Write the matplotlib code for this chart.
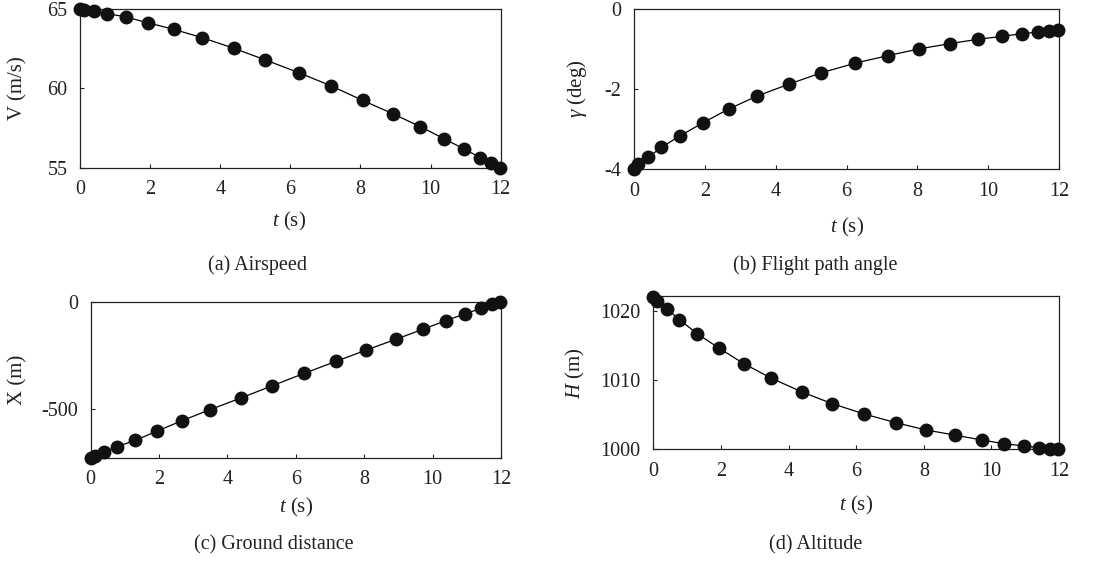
import matplotlib
matplotlib.use('Agg')
import matplotlib.pyplot as plt

plt.rcParams['font.family'] = ['Liberation Serif', 'DejaVu Serif']
plt.rcParams['mathtext.fontset'] = 'custom'
plt.rcParams['mathtext.it'] = 'Liberation Serif:italic'
plt.rcParams['mathtext.rm'] = 'Liberation Serif'
plt.rcParams['axes.unicode_minus'] = False

# time nodes (s)
t = [0.0, 0.12, 0.40, 0.77, 1.30, 1.95, 2.67, 3.48, 4.39, 5.29,
     6.24, 7.17, 8.06, 8.92, 9.71, 10.38, 10.96, 11.42, 11.73, 11.98]

# airspeed V (m/s)
V = [65.0, 64.96, 64.87, 64.73, 64.52, 64.14, 63.74, 63.21, 62.54, 61.80,
     61.0, 60.16, 59.25, 58.41, 57.59, 56.83, 56.18, 55.63, 55.27, 55.0]

# flight path angle gamma (deg)
gamma = [-4.0, -3.87, -3.71, -3.46, -3.17, -2.84, -2.50, -2.17, -1.87, -1.59,
         -1.35, -1.16, -0.99, -0.86, -0.75, -0.68, -0.61, -0.57, -0.54, -0.52]

# ground distance X (m)
X = [-729, -721, -704, -677, -648, -604, -556, -505, -450, -394,
     -335, -279, -226, -176, -129, -89, -56, -31, -11, 0]

# altitude H (m)
H = [1022.0, 1021.5, 1020.3, 1018.75, 1016.7, 1014.6, 1012.4, 1010.3, 1008.3, 1006.6,
     1005.1, 1003.85, 1002.8, 1002.05, 1001.35, 1000.8, 1000.5, 1000.2, 1000.05, 1000.0]

W, Hpx = 1097, 564
fig = plt.figure(figsize=(W / 100, Hpx / 100), dpi=100)


def add_ax(left, top, right, bottom):
    return fig.add_axes([left / W, 1 - bottom / Hpx, (right - left) / W, (bottom - top) / Hpx])


panels = [
    # box (px), y data, ylim, yticks, ylabel, caption, xlabel pos, ylabel pos, caption pos
    ((80, 9.3, 500.7, 167.7), V, (55, 65), [55, 60, 65], 'V (m/s)', '(a) Airspeed',
     (289, 221), (18, 88), (258, 265)),
    ((634, 9.3, 1059, 169), gamma, (-4, 0), [-4, -2, 0], r'$\mathit{\gamma}$ (deg)', '(b) Flight path angle',
     (847, 227), (577, 89), (815, 265)),
    ((90.7, 301.7, 501, 457.7), X, (-729, 0), [-500, 0], 'X (m)', '(c) Ground distance',
     (296, 507), (18, 380), (274, 545)),
    ((653.3, 295.7, 1059, 449.3), H, (1000, 1022.2), [1000, 1010, 1020], r'$H$ (m)', '(d) Altitude',
     (856, 505), (575, 373), (816, 545)),
]

for box, y, ylim, yticks, ylab, cap, xlp, ylp, capp in panels:
    ax = add_ax(*box)
    ax.plot(t, y, color='black', linewidth=0.9, marker='o', markersize=9,
            markerfacecolor='#111111', markeredgecolor='#111111', clip_on=False, zorder=3)
    ax.set_xlim(0, 12)
    ax.set_ylim(*ylim)
    ax.set_xticks(range(0, 13, 2))
    ax.set_yticks(yticks)
    ax.tick_params(direction='in', length=3, width=0.8, labelsize=14.5, colors='#222222',
                   top=False, right=False)
    ax.tick_params(axis='x', pad=9)
    ax.tick_params(axis='y', pad=9)
    for s in ax.spines.values():
        s.set_linewidth(0.9)
        s.set_color('#222222')
    fig.text(xlp[0] / W, 1 - xlp[1] / Hpx, r'$t$ (s)', ha='center', va='center', fontsize=15, color='#222222')
    fig.text(ylp[0] / W, 1 - ylp[1] / Hpx, ylab, ha='center', va='center', rotation=90, fontsize=15,
             color='#222222')
    fig.text(capp[0] / W, 1 - capp[1] / Hpx, cap, ha='center', va='center', fontsize=14.5, color='#222222')

fig.savefig('out.png', dpi=100)
